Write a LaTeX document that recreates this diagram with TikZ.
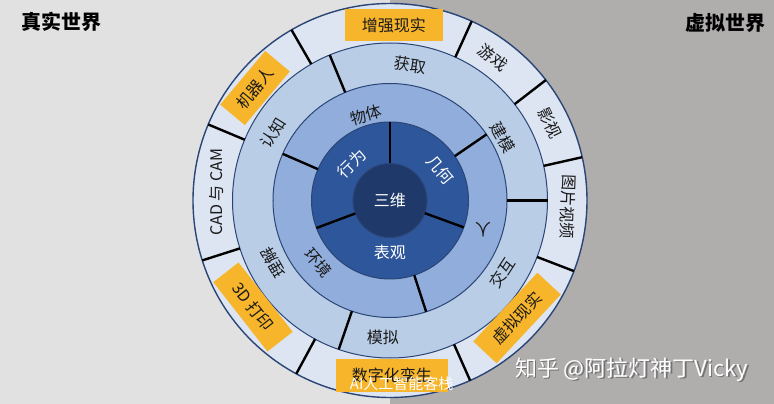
\documentclass[tikz,border=0pt]{standalone}
\usepackage{fontspec}
\setmainfont{Noto Sans CJK SC}
\definecolor{bgleft}{HTML}{E1E1E1}
\definecolor{bgright}{HTML}{B0ADAD}
\definecolor{ringA}{HTML}{DCE5F1}
\definecolor{ringB}{HTML}{B9CDE6}
\definecolor{ringC}{HTML}{91ADDB}
\definecolor{ringD}{HTML}{2E569A}
\definecolor{coreC}{HTML}{1F3A6A}
\definecolor{ringline}{HTML}{2A4576}
\definecolor{boxyellow}{HTML}{F6B52A}
\definecolor{labtext}{HTML}{1A1A1A}
\begin{document}
\begin{tikzpicture}[x=1pt,y=1pt,
  lab/.style={font=\fontsize{16}{18}\selectfont, text=labtext, inner sep=0pt},
  wlab/.style={lab, text=white},
  ybox/.style={lab, fill=boxyellow, minimum height=32pt},
  divider/.style={line width=2.4pt, draw=black},
  ringedge/.style={draw=ringline, line width=1pt},
  title/.style={font=\fontsize{20}{22}\selectfont\bfseries, text=black, inner sep=0pt}]
\useasboundingbox (-390,-203.5) rectangle (384,200.5);
\fill[bgleft] (-390,-203.5) rectangle (0,200.5);
\fill[bgright] (0,-203.5) rectangle (384,200.5);
\coordinate (O) at (0,0);
% rings
\filldraw[fill=ringA, draw=ringline, line width=1.4pt] (O) circle (197);
\filldraw[fill=ringB, ringedge] (O) circle (157.5);
\filldraw[fill=ringC, ringedge] (O) circle (117);
\filldraw[fill=ringD, ringedge] (O) circle (78.5);
\filldraw[fill=coreC, ringedge] (O) circle (37);
% dividers
\foreach \a in {120,65.5,37.7,12.7,-21,-66,-118.4,-162.3,157.3}
  \draw[divider] ([shift={(\a:157.5)}]O) -- ([shift={(\a:197)}]O);
\foreach \a in {112.5,0,-109}
  \draw[divider] ([shift={(\a:117)}]O) -- ([shift={(\a:157.5)}]O);
\foreach \a in {156.5,34.4,-72}
  \draw[divider] ([shift={(\a:78.5)}]O) -- ([shift={(\a:117)}]O);
\foreach \a in {90,-159.5,-20}
  \draw[divider] ([shift={(\a:37)}]O) -- ([shift={(\a:78.5)}]O);
% outer ring labels
\node[ybox, minimum width=98pt] (zqxs) at (4,175.5) {增强现实};
\node[ybox, minimum width=70pt, rotate=50] (jqr) at (-135,112.5) {机器人};
\node[ybox, minimum width=88pt, rotate=-52] (dydy) at (-137,-106.5) {3D 打印};
\node[ybox, minimum width=112pt, minimum height=33pt] (szh) at (2,-175) {数字化孪生};
\node[ybox, minimum width=94pt, rotate=47] (xnxs) at (127,-117.5) {虚拟现实};
\node[lab, rotate=-38] (yx) at (103,142.5) {游戏};
\node[lab, rotate=-64] (ys) at (160,77.5) {影视};
\node[lab, rotate=-92] (tpsp) at (178,-6.5) {图片视频};
\node[lab, rotate=90] (cad) at (-173,8.5) {CAD 与 CAM};
% second ring
\node[lab, rotate=-8] (hq) at (20,135.5) {获取};
\node[lab, rotate=-60] (jm) at (113,63.5) {建模};
\node[lab, rotate=57] (jh) at (112,-72.5) {交互};
\node[lab] (mn) at (-7,-136.5) {模拟};
\node[lab, rotate=120] (lj) at (-117,-62.5) {理解};
\node[lab, rotate=58] (rz) at (-117,67.5) {认知};
% third ring
\node[lab, rotate=15] (wt) at (-24,85.5) {物体};
\node[lab, rotate=180] (ren) at (93,-29.5) {人};
\node[lab, rotate=-50] (hj) at (-72,-62.5) {环境};
% fourth ring
\node[wlab, rotate=45] (xw) at (-38,37) {行为};
\node[wlab, rotate=-50] (jh2) at (50,30.5) {几何};
\node[wlab] (bg) at (0,-51.5) {表观};
\node[wlab] (sw) at (0,0) {三维};
% titles
\node[title] (zs) at (-328,178.5) {真实世界};
\node[title] (xn) at (335.5,178) {虚拟世界};
% watermarks
\node[font=\fontsize{22}{24}\selectfont, text=black!55, inner sep=0pt] at (243,-170.3) {知乎 @阿拉灯神丁Vicky};
\node[font=\fontsize{22}{24}\selectfont, text=white, inner sep=0pt] (wm) at (241.7,-168.8) {知乎 @阿拉灯神丁Vicky};
\node[font=\fontsize{15}{17}\selectfont, text=white, inner sep=0pt] (wm2) at (11.7,-182.8) {AI人工智能客栈};
\end{tikzpicture}
\end{document}
